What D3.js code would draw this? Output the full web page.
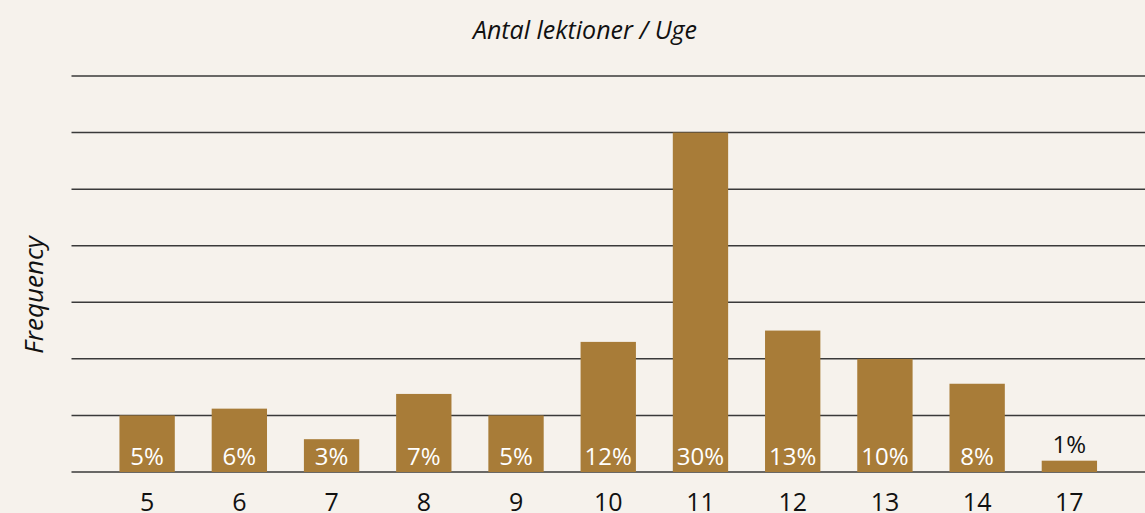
<!DOCTYPE html>
<html>
<head>
<meta charset="utf-8">
<script src="https://cdn.jsdelivr.net/npm/d3@7"></script>
<style>
  body { margin: 0; background: #f6f2ec; }
  svg { display: block; font-family: "Open Sans", sans-serif; }
</style>
</head>
<body>
<div id="chart"></div>
<script>
// lessons per week and share of respondents (%)
var categories = ["5", "6", "7", "8", "9", "10", "11", "12", "13", "14", "17"];
var values = [5.0, 5.6, 2.9, 6.9, 5.0, 11.5, 30.0, 12.5, 10.0, 7.8, 1.0];
var labels = ["5%", "6%", "3%", "7%", "5%", "12%", "30%", "13%", "10%", "8%", "1%"];
var gridTicks = [0, 5, 10, 15, 20, 25, 30, 35];

var width = 1145, height = 513;

var svg = d3.select("#chart")
  .append("svg")
    .attr("width", width)
    .attr("height", height)
    .style("background-color", "#f6f2ec");

var x = d3.scaleBand()
  .domain(categories)
  .range([71.5, 1145])
  .paddingInner(0.4)
  .paddingOuter(0.52);

var y = d3.scaleLinear()
  .domain([0, 35])
  .range([472, 76]);

// gridlines
svg.append("g")
  .selectAll("line")
  .data(gridTicks)
  .enter()
  .append("line")
    .attr("x1", 71.5)
    .attr("x2", width)
    .attr("y1", function(d) { return y(d); })
    .attr("y2", function(d) { return y(d); })
    .style("stroke", "#3a3a3a")
    .style("stroke-width", 1.5);

var data = categories.map(function(c, i) {
  return {cat: c, value: values[i], label: labels[i]};
});

// bars
svg.append("g")
  .selectAll("rect")
  .data(data)
  .enter()
  .append("rect")
    .attr("x", function(d) { return x(d.cat); })
    .attr("y", function(d) { return y(d.value); })
    .attr("width", x.bandwidth())
    .attr("height", function(d) { return y(0) - y(d.value); })
    .style("fill", "#a87c38");

// value labels: inside bar when it fits, otherwise above
svg.append("g")
  .selectAll("text")
  .data(data)
  .enter()
  .append("text")
    .attr("x", function(d) { return x(d.cat) + x.bandwidth() / 2; })
    .attr("y", function(d) {
      return d.value > 2 ? y(0) - 7 : y(d.value) - 8;
    })
    .attr("text-anchor", "middle")
    .style("font-size", "24px")
    .style("fill", function(d) { return d.value > 2 ? "#ffffff" : "#111111"; })
    .text(function(d) { return d.label; });

// x axis labels
var xAxis = svg.append("g")
  .attr("transform", "translate(0,472)")
  .call(d3.axisBottom(x).tickSize(0).tickPadding(39));
xAxis.select(".domain").remove();
xAxis.selectAll("text")
  .attr("dy", 0)
  .style("font-family", "'Open Sans', sans-serif")
  .style("font-size", "25px")
  .style("fill", "#111111");

// title
svg.append("text")
  .attr("x", 585)
  .attr("y", 39)
  .attr("text-anchor", "middle")
  .style("font-style", "italic")
  .style("font-size", "25px")
  .style("fill", "#111111")
  .text("Antal lektioner / Uge");

// y axis title
svg.append("text")
  .attr("transform", "translate(43,295) rotate(-90)")
  .attr("text-anchor", "middle")
  .style("font-style", "italic")
  .style("font-size", "26px")
  .style("fill", "#111111")
  .text("Frequency");
</script>
</body>
</html>
